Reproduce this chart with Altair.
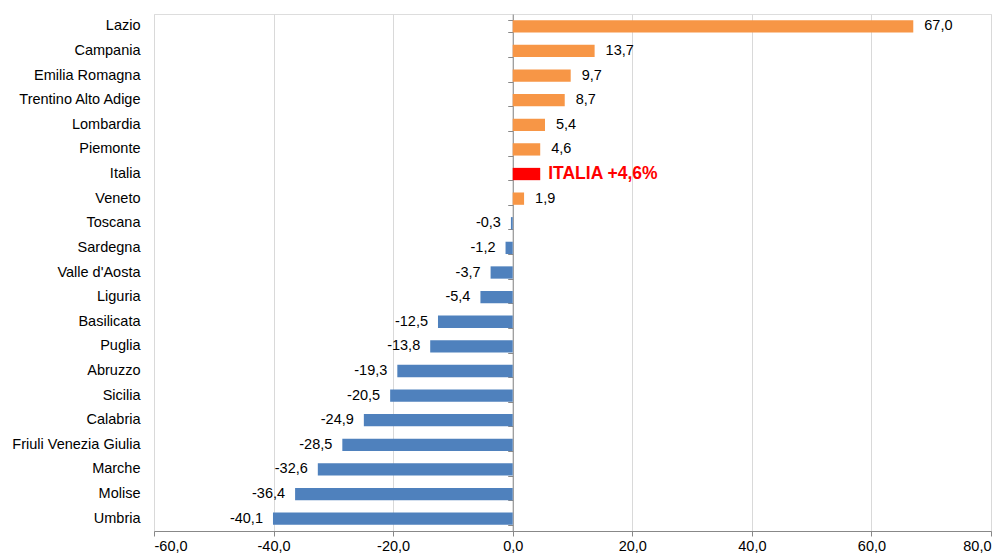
import altair as alt
import pandas as pd

regions = ["Lazio", "Campania", "Emilia Romagna", "Trentino Alto Adige", "Lombardia",
           "Piemonte", "Italia", "Veneto", "Toscana", "Sardegna", "Valle d'Aosta",
           "Liguria", "Basilicata", "Puglia", "Abruzzo", "Sicilia", "Calabria",
           "Friuli Venezia Giulia", "Marche", "Molise", "Umbria"]
values = [67.0, 13.7, 9.7, 8.7, 5.4, 4.6, 4.6, 1.9, -0.3, -1.2, -3.7, -5.4, -12.5,
          -13.8, -19.3, -20.5, -24.9, -28.5, -32.6, -36.4, -40.1]
italia_label = "ITALIA +4,6%"
x_ticks = [-60, -40, -20, 0, 20, 40, 60, 80]

df = pd.DataFrame({"region": regions, "value": values})
df["kind"] = ["ita" if r == "Italia" else ("pos" if v >= 0 else "neg") for r, v in zip(regions, values)]
df["label"] = [f"{v:.1f}".replace(".", ",") for v in values]

W, H = 837, 517
FONT = "Liberation Sans"
FS = 14.5

xscale = alt.Scale(domain=[-60, 80], nice=False, zero=False)
yscale = alt.Scale(domain=regions, paddingInner=0.5, paddingOuter=0.25)

base = alt.Chart(df)

bars = base.mark_bar().encode(
    x=alt.X("value:Q", scale=xscale, title=None,
            axis=alt.Axis(values=x_ticks,
                          labelExpr="(datum.value < 0 ? '-' : '') + replace(format(abs(datum.value), '.1f'), '.', ',')",
                          grid=True, gridColor="#d9d9d9", domainColor="#888888",
                          tickColor="#888888", tickSize=5, labelFontSize=FS, labelFont=FONT,
                          labelColor="#000000", labelPadding=3)),
    x2=alt.datum(0),
    y=alt.Y("region:N", scale=yscale, sort=regions, title=None,
            axis=alt.Axis(orient="left", domain=False, ticks=False, labelFontSize=FS, labelFont=FONT,
                          labelColor="#000000", labelPadding=14, grid=False)),
    color=alt.Color("kind:N", scale=alt.Scale(domain=["pos", "neg", "ita"],
                                              range=["#F79646", "#4F81BD", "#FF0000"]),
                    legend=None),
)

zero_axis = base.mark_rule(opacity=0).encode(
    y=alt.Y("region:N", scale=yscale, sort=regions, title=None,
            axis=alt.Axis(orient="left", labels=False, domain=True, domainColor="#888888",
                          ticks=True, tickColor="#888888", tickSize=5, tickBand="extent",
                          offset=-(W * 60 / 140), grid=False)),
    x=alt.X("value:Q", scale=xscale),
)

def text_layer(kind, **kw):
    return base.transform_filter(f"datum.kind == '{kind}'").mark_text(
        baseline="middle", font=FONT, **kw
    ).encode(x=alt.X("value:Q", scale=xscale),
             y=alt.Y("region:N", scale=yscale, sort=regions, axis=None),
             text="label:N")

pos_text = text_layer("pos", align="left", dx=11, fontSize=FS, color="#000000")
neg_text = text_layer("neg", align="right", dx=-10, fontSize=FS, color="#000000")
ita_text = base.transform_filter("datum.kind == 'ita'").mark_text(
    align="left", baseline="middle", dx=8, fontSize=17.5, fontWeight="bold", font=FONT,
    color="#FF0000"
).encode(x=alt.X("value:Q", scale=xscale),
         y=alt.Y("region:N", scale=yscale, sort=regions, axis=None),
         text=alt.value(italia_label))

chart = alt.layer(bars, zero_axis, pos_text, neg_text, ita_text).resolve_axis(
    y="independent"
).properties(
    width=W, height=H,
    autosize=alt.AutoSizeParams(type="none"),
    padding={"left": 146, "top": 6, "right": 7, "bottom": 25},
).configure_view(stroke="#888888", strokeWidth=1).configure(background="white")

chart.save("out.html", embed_options={"renderer": "svg", "actions": False})
